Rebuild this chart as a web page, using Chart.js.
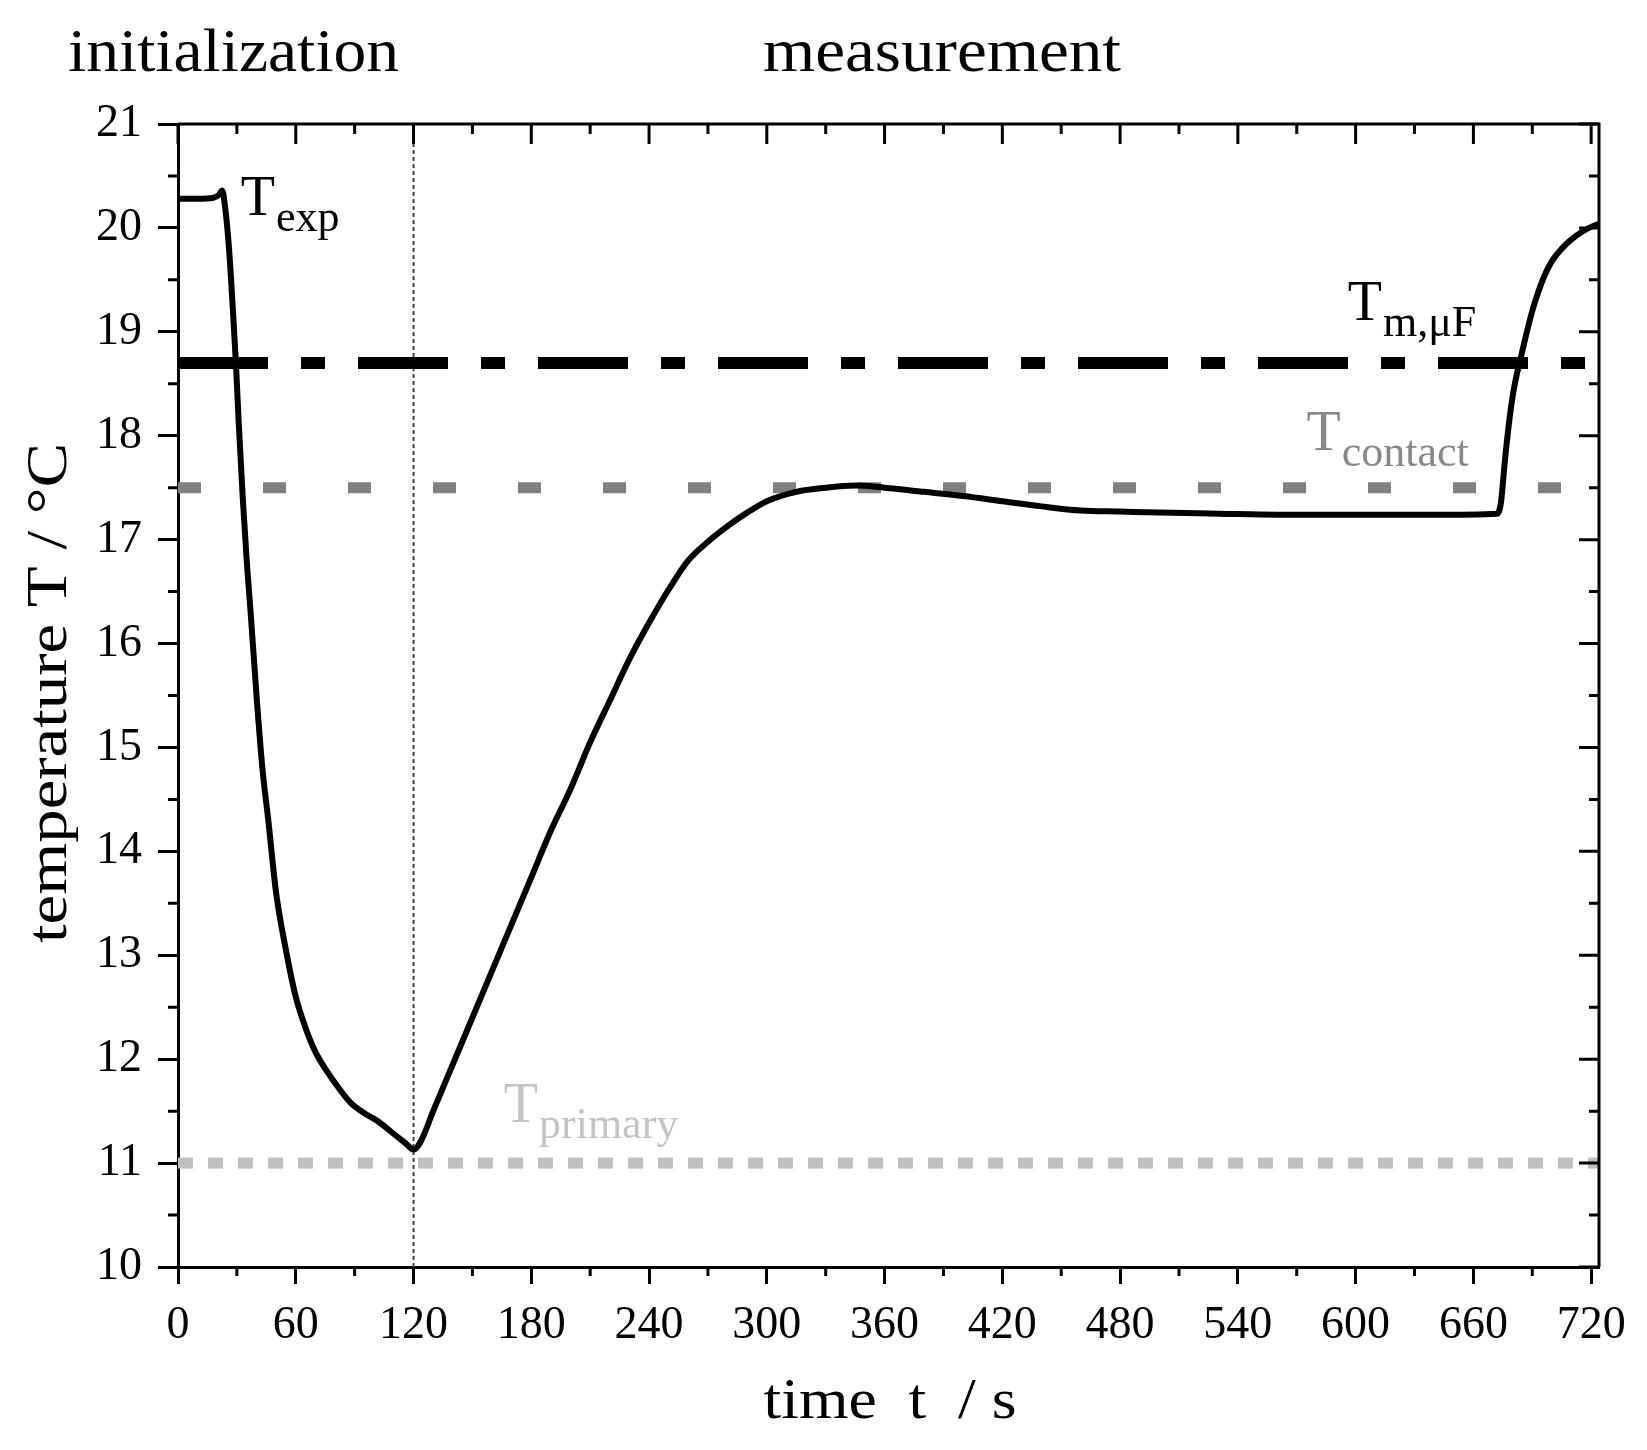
<!DOCTYPE html>
<html>
<head>
<meta charset="utf-8">
<script src="https://cdn.jsdelivr.net/npm/chart.js@4.4.1/dist/chart.umd.min.js"></script>
<style>
  html, body { margin: 0; padding: 0; background: #fff; }
  #wrap { width: 1647px; height: 1450px; position: relative; }
</style>
</head>
<body>
<div id="wrap"><canvas id="chart"></canvas></div>
<script>
const timeS = [0, 10, 18, 21, 22.5, 24, 26, 28, 29.5, 31, 33, 35, 37, 40, 43, 46, 50, 55, 60, 65, 70, 76, 82, 88,
  95, 102, 110, 116, 120, 124, 130, 140, 150, 160, 170, 180, 190, 200, 210, 220, 230, 240, 250, 260, 270, 280,
  290, 300, 315, 330, 345, 360, 380, 400, 420, 440, 460, 480, 500, 530, 560, 600, 640, 672, 674, 676, 678, 680,
  682, 684, 687, 690, 693, 696, 700, 705, 710, 716, 720, 724];
const tempC = [20.28, 20.28, 20.29, 20.32, 20.36, 20.2, 19.8, 19.2, 18.7, 18.1, 17.4, 16.8, 16.3, 15.5, 14.8, 14.3,
  13.6, 13.05, 12.6, 12.3, 12.07, 11.88, 11.72, 11.58, 11.48, 11.4, 11.28, 11.19, 11.13, 11.22, 11.5, 11.95, 12.4,
  12.85, 13.3, 13.75, 14.2, 14.6, 15.05, 15.45, 15.85, 16.2, 16.52, 16.8, 16.98, 17.13, 17.26, 17.37, 17.46, 17.5,
  17.52, 17.5, 17.46, 17.42, 17.37, 17.32, 17.28, 17.27, 17.26, 17.25, 17.24, 17.24, 17.24, 17.25, 17.35, 17.75,
  18.1, 18.38, 18.58, 18.74, 18.98, 19.2, 19.38, 19.53, 19.68, 19.8, 19.89, 19.97, 20.01, 20.04];

const xTicks = [0, 60, 120, 180, 240, 300, 360, 420, 480, 540, 600, 660, 720];
const xMinor = [30, 90, 150, 210, 270, 330, 390, 450, 510, 570, 630, 690];
const yTicks = [10, 11, 12, 13, 14, 15, 16, 17, 18, 19, 20, 21];
const yMinor = [10.5, 11.5, 12.5, 13.5, 14.5, 15.5, 16.5, 17.5, 18.5, 19.5, 20.5];

const refLevels = [18.7, 17.5, 11.0];          // T m,μF / T contact / T primary
const phaseBoundary = 120;
const phaseLabels = ['initialization', 'measurement'];

// label anchors (time, temperature) for the T_xxx tags
const tagMain = ['T', 'T', 'T', 'T'];
const tagSub = ['exp', 'm,μF', 'contact', 'primary'];
const tagTime = [32, 596, 575, 166];
const tagTemp = [20.12, 19.11, 17.86, 11.4];
const tagColor = ['#000', '#000', '#888', '#c4c4c4'];

const SERIF = '"Liberation Serif", "DejaVu Serif", serif';
const X_MAX = 724;

function drawText(ctx, txt, x, y, size, color, align, width) {
  ctx.save();
  ctx.font = size + 'px ' + SERIF;
  ctx.fillStyle = color;
  ctx.textBaseline = 'alphabetic';
  let w = ctx.measureText(txt).width;
  let sx = width ? width / w : 1;
  let left = x;
  if (align === 'center') left = x - w * sx / 2;
  ctx.translate(left, y);
  ctx.scale(sx, 1);
  ctx.fillText(txt, 0, 0);
  ctx.restore();
  return w * sx;
}

const decor = {
  id: 'decor',
  afterDatasetsDraw(chart) {
    const { ctx, chartArea: a, scales } = chart;
    const xs = scales.x, ys = scales.y;
    ctx.save();
    ctx.strokeStyle = '#000';
    ctx.lineWidth = 3;
    // top + right frame
    ctx.beginPath();
    ctx.moveTo(a.left, a.top); ctx.lineTo(a.right, a.top); ctx.lineTo(a.right, a.bottom);
    ctx.stroke();
    ctx.beginPath();
    // major ticks: mirrored inward on top/right
    xTicks.forEach(v => {
      const px = xs.getPixelForValue(v);
      ctx.moveTo(px, a.top); ctx.lineTo(px, a.top + 20);
    });
    yTicks.forEach(v => {
      const py = ys.getPixelForValue(v);
      ctx.moveTo(a.right, py); ctx.lineTo(a.right - 20, py);
    });
    // minor ticks
    xMinor.forEach(v => {
      const px = xs.getPixelForValue(v);
      ctx.moveTo(px, a.bottom); ctx.lineTo(px, a.bottom + 9);
      ctx.moveTo(px, a.top); ctx.lineTo(px, a.top + 10);
    });
    yMinor.forEach(v => {
      const py = ys.getPixelForValue(v);
      ctx.moveTo(a.left, py); ctx.lineTo(a.left - 10, py);
      ctx.moveTo(a.right, py); ctx.lineTo(a.right - 10, py);
    });
    ctx.stroke();
    ctx.restore();

    // T tags
    tagMain.forEach((m, i) => {
      const px = xs.getPixelForValue(tagTime[i]);
      const py = ys.getPixelForValue(tagTemp[i]);
      const w = drawText(ctx, m, px, py, 56, tagColor[i]);
      drawText(ctx, tagSub[i], px + w + 1, py + 16, 44, tagColor[i]);
    });

    // phase labels and axis titles
    drawText(ctx, phaseLabels[0], 68, 71, 62, '#000', 'left', 331);
    drawText(ctx, phaseLabels[1], 763, 71, 62, '#000', 'left', 358);
    drawText(ctx, 'time  t  / s', 890, 1418, 58, '#000', 'center', 253);
    ctx.save();
    ctx.translate(66, 693);
    ctx.rotate(-Math.PI / 2);
    drawText(ctx, 'temperature T / °C', 0, 0, 58, '#000', 'center', 500);
    ctx.restore();
  }
};

const curve = timeS.map((t, i) => ({ x: t, y: tempC[i] }));
const flat = v => [{ x: 0, y: v }, { x: X_MAX, y: v }];

new Chart(document.getElementById('chart'), {
  type: 'line',
  data: {
    datasets: [
      { label: 'T m,μF', data: flat(refLevels[0]), borderColor: '#000', borderWidth: 12,
        borderDash: [90, 33, 24, 33], borderCapStyle: 'butt', pointRadius: 0, order: 4 },
      { label: 'T contact', data: flat(refLevels[1]), borderColor: '#808080', borderWidth: 11,
        borderDash: [23, 62], borderCapStyle: 'butt', pointRadius: 0, order: 3 },
      { label: 'T primary', data: flat(refLevels[2]), borderColor: '#c0c0c0', borderWidth: 11,
        borderDash: [15, 15], borderCapStyle: 'butt', pointRadius: 0, order: 2 },
      { label: 'phase', data: [{ x: phaseBoundary, y: 10 }, { x: phaseBoundary, y: 21 }],
        borderColor: '#444', borderWidth: 2, borderDash: [4, 3], pointRadius: 0, order: 5 },
      { label: 'T exp', data: curve, borderColor: '#000', borderWidth: 6, pointRadius: 0,
        cubicInterpolationMode: 'monotone', order: 1 }
    ]
  },
  options: {
    responsive: true,
    maintainAspectRatio: false,
    animation: false,
    devicePixelRatio: 1,
    layout: { padding: { top: 124, right: 48, left: 0, bottom: 0 } },
    plugins: { legend: { display: false }, tooltip: { enabled: false } },
    scales: {
      x: {
        type: 'linear', min: 0, max: X_MAX,
        afterBuildTicks: s => { s.ticks = xTicks.map(v => ({ value: v })); },
        afterFit: s => { s.height = 183; },
        border: { display: true, color: '#000', width: 3 },
        grid: { drawOnChartArea: false, drawTicks: true, tickLength: 17, tickWidth: 3, tickColor: '#000' },
        ticks: { color: '#000', padding: 14, maxRotation: 0, autoSkip: false,
          font: { family: SERIF, size: 46 } }
      },
      y: {
        type: 'linear', min: 10, max: 21,
        afterBuildTicks: s => { s.ticks = yTicks.map(v => ({ value: v })); },
        afterFit: s => { s.width = 178; },
        border: { display: true, color: '#000', width: 3 },
        grid: { drawOnChartArea: false, drawTicks: true, tickLength: 20, tickWidth: 3, tickColor: '#000' },
        ticks: { color: '#000', padding: 16, autoSkip: false,
          font: { family: SERIF, size: 46 } }
      }
    }
  },
  plugins: [decor]
});
</script>
</body>
</html>
